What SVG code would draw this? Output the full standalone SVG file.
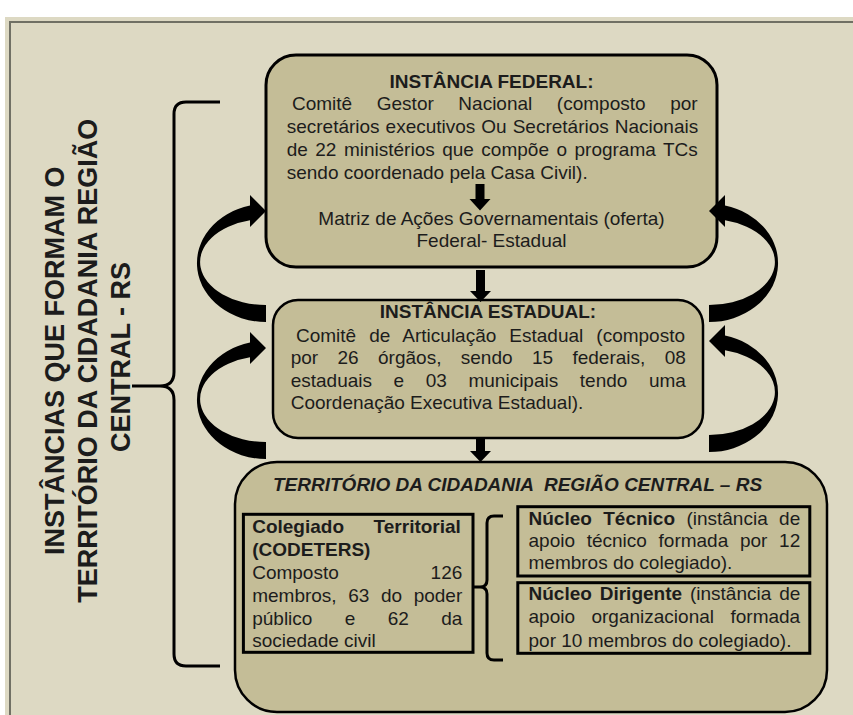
<svg xmlns="http://www.w3.org/2000/svg" width="853" height="715" viewBox="0 0 853 715">
  <style>
    text { font-family: "Liberation Sans", Arial, sans-serif; fill: #1c1c1c; }
    .t { font-size: 19px; }
    .b { font-weight: bold; }
    .mid { text-anchor: middle; }
    .box { fill: #C4BD97; stroke: #000; }
    .inner { fill: none; stroke: #000; stroke-width: 3; }
    .brace { fill: none; stroke: #000; stroke-width: 3; }
    .solid { fill: #000; stroke: none; }
  </style>
  <defs>
    <!-- curved U-turn arrow: tail at the bottom right, head at the top right -->
    <path id="uturn" d="M 266 322 A 69 59 0 0 1 250 205.6 L 250 195 L 266 211 L 250 227 L 250 220.3 A 66 43 0 0 0 266 305 Z"/>
  </defs>

  <!-- page -->
  <rect x="0" y="0" width="853" height="715" fill="#ffffff"/>
  <rect x="5" y="17" width="848" height="698" fill="#DDD9C3"/>
  <path d="M 10 715 L 10 22 L 853 22" fill="none" stroke="#707064" stroke-width="2"/>

  <!-- side label -->
  <g id="label">
    <text class="b" font-size="27" text-anchor="middle" transform="translate(64,357) rotate(-90)">
      <tspan x="0" y="0">INSTÂNCIAS QUE FORMAM O</tspan>
      <tspan x="0" dy="33">TERRITÓRIO DA CIDADANIA REGIÃO</tspan>
      <tspan x="0" dy="33">CENTRAL - RS</tspan>
    </text>
  </g>

  <!-- federal level -->
  <g id="federal">
    <rect class="box" stroke-width="3" x="266" y="55" width="451" height="212" rx="30"/>
    <text class="t b mid" x="491.5" y="88">INSTÂNCIA FEDERAL:</text>
    <text class="t" x="292" y="110" word-spacing="19.3">Comitê Gestor Nacional (composto por</text>
    <text class="t" x="286.7" y="133" word-spacing="0.7">secretários executivos Ou Secretários Nacionais</text>
    <text class="t" x="286.7" y="156" word-spacing="2.2">de 22 ministérios que compõe o programa TCs</text>
    <text class="t" x="286.7" y="179">sendo coordenado pela Casa Civil).</text>
    <path class="solid" d="M 475.5 184 H 484.5 V 199 H 490.5 L 480 210.5 L 469.5 199 H 475.5 Z"/>
    <text class="t mid" x="491.5" y="225">Matriz de Ações Governamentais (oferta)</text>
    <text class="t mid" x="491.5" y="247">Federal- Estadual</text>
  </g>

  <!-- state level -->
  <g id="estadual">
    <rect class="box" stroke-width="2.5" x="273" y="300" width="430" height="138" rx="25"/>
    <text class="t b mid" x="488" y="318">INSTÂNCIA ESTADUAL:</text>
    <text class="t" x="296" y="341.5" word-spacing="7.75">Comitê de Articulação Estadual (composto</text>
    <text class="t" x="290.7" y="364" word-spacing="14.1">por 26 órgãos, sendo 15 federais, 08</text>
    <text class="t" x="290.7" y="386.5" word-spacing="16.3">estaduais e 03 municipais tendo uma</text>
    <text class="t" x="290.7" y="409">Coordenação Executiva Estadual).</text>
  </g>

  <!-- territory -->
  <g id="territorio">
    <rect class="box" stroke-width="2.5" x="235" y="462" width="592" height="250" rx="42"/>
    <text class="t b" font-style="italic" x="273" y="490.7" xml:space="preserve">TERRITÓRIO DA CIDADANIA  REGIÃO CENTRAL – RS</text>
  </g>

  <g id="colegiado">
    <rect class="inner" x="243.4" y="514.3" width="229.6" height="138"/>
    <text class="t b" x="252.2" y="533.3" word-spacing="24.3">Colegiado Territorial</text>
    <text class="t b" x="252.2" y="556">(CODETERS)</text>
    <text class="t" x="252.2" y="579.3" word-spacing="86.5">Composto 126</text>
    <text class="t" x="252.2" y="601.7" word-spacing="6.3">membros, 63 do poder</text>
    <text class="t" x="252.2" y="625" word-spacing="27.1">público e 62 da</text>
    <text class="t" x="252.2" y="647.3">sociedade civil</text>
  </g>

  <g id="nucleo-tecnico">
    <rect class="inner" x="517.8" y="506.7" width="292" height="69.3"/>
    <text class="t" x="528.5" y="525" word-spacing="6.1"><tspan class="b">Núcleo Técnico</tspan> (instância de</text>
    <text class="t" x="528.5" y="546.7" word-spacing="6.4">apoio técnico formada por 12</text>
    <text class="t" x="528.5" y="569">membros do colegiado).</text>
  </g>

  <g id="nucleo-dirigente">
    <rect class="inner" x="517.8" y="582.7" width="292" height="70.6"/>
    <text class="t" x="528.5" y="600" word-spacing="2.6"><tspan class="b">Núcleo Dirigente</tspan> (instância de</text>
    <text class="t" x="528.5" y="623.3" word-spacing="11.2">apoio organizacional formada</text>
    <text class="t" x="528.5" y="646.7">por 10 membros do colegiado).</text>
  </g>

  <!-- connectors -->
  <g id="connectors">
    <path class="brace" d="M 220 102 L 186 102 Q 174 102 174 114 L 174 372 Q 174 386 160 386 L 132 386 M 160 386 Q 174 386 174 400 L 174 654 Q 174 666 186 666 L 220 666"/>
    <path class="brace" stroke-width="2.5" d="M 503 516 L 494 516 Q 487 516 487 523 L 487 580 Q 487 587 480 587 L 473 587 M 480 587 Q 487 587 487 594 L 487 653 Q 487 660 494 660 L 503 660"/>
    <path class="solid" d="M 476 270 H 485 V 291 H 491 L 480.5 302 L 470 291 H 476 Z"/>
    <path class="solid" d="M 476 438 H 485 V 451 H 491 L 480.5 462 L 470 451 H 476 Z"/>
    <use href="#uturn" class="solid"/>
    <use href="#uturn" class="solid" transform="translate(0,137)"/>
    <use href="#uturn" class="solid" transform="translate(975,0) scale(-1,1)"/>
    <use href="#uturn" class="solid" transform="translate(975,130) scale(-1,1)"/>
  </g>
</svg>
